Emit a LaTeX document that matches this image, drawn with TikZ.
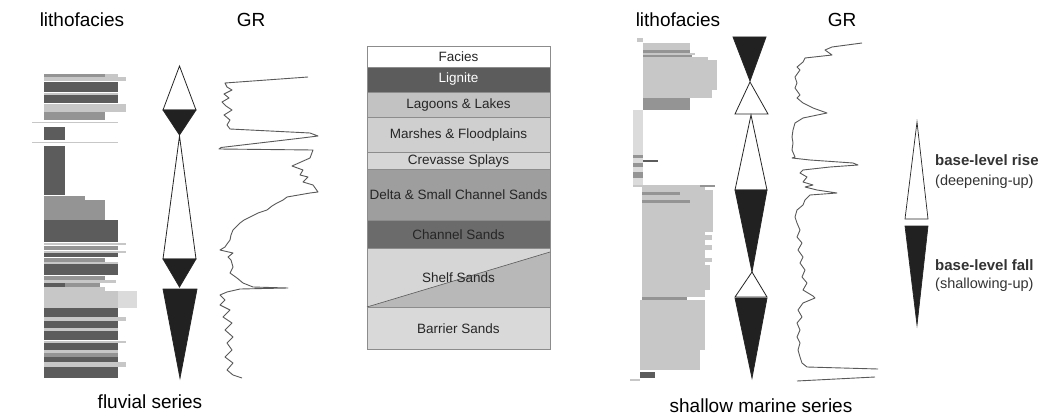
\documentclass[tikz,border=0pt]{standalone}
\usepackage{fontspec}
\setmainfont{Liberation Sans}
\definecolor{dk}{gray}{0.36}
\definecolor{md}{gray}{0.58}
\definecolor{lt}{gray}{0.78}
\definecolor{vl}{gray}{0.86}
\definecolor{blk}{gray}{0.13}
\definecolor{grc}{gray}{0.35}
\begin{document}
\begin{tikzpicture}[x=1pt,y=-1pt,
  title/.style={font=\fontsize{19}{22}\selectfont, inner sep=0pt},
  faciestxt/.style={font=\fontsize{13.5}{15}\selectfont, inner sep=0pt, text=black!85},
  legbold/.style={font=\fontsize{15}{17}\selectfont\bfseries, inner sep=0pt, anchor=west, text=black!80},
  legnorm/.style={font=\fontsize{14.5}{17}\selectfont, inner sep=0pt, anchor=west, text=black!80},
  tri/.style={draw=black!85, line width=0.8pt, line join=miter},
  gr/.style={draw=grc, line width=0.9pt, line join=round},
  row/.style={draw=black!45, line width=0.6pt}]
\useasboundingbox (0,0) rectangle (1044,420);
\fill[white] (0,0) rectangle (1044,420);

% ---------- titles ----------
\node[title] (tl1) at (82,20) {lithofacies};
\node[title] (tg1) at (251,20) {GR};
\node[title] (tl2) at (678,20) {lithofacies};
\node[title] (tg2) at (842,20) {GR};
\node[title] (fs) at (150,402) {fluvial series};
\node[title] (ms) at (761,406) {shallow marine series};

% ---------- left lithofacies column ----------
\fill[md] (44,74) rectangle (105,77); \fill[lt] (105,74) rectangle (118,77);
\fill[lt] (44,77) rectangle (126,81);
\fill[dk] (44,82) rectangle (118,92);
\fill[lt] (44,93) rectangle (118,94.5);
\fill[dk] (44,95) rectangle (118,103);
\fill[lt] (44,104) rectangle (126,112);
\fill[md] (44,112) rectangle (105,120);
\fill[lt] (32,122) rectangle (118,123.2);
\fill[dk] (44,127) rectangle (65,140);
\fill[lt] (32,142) rectangle (118,143.2);
\fill[dk] (44,146) rectangle (65,195);
\fill[md] (44,196) rectangle (85,200);
\fill[md] (44,200) rectangle (105,220);
\fill[dk] (44,220) rectangle (118,242);
\fill[lt] (44,243) rectangle (126,245);
\fill[md] (44,246) rectangle (118,250);
\fill[lt] (44,251) rectangle (126,253);
\fill[dk] (44,253) rectangle (118,257);
\fill[md] (44,258) rectangle (105,262);
\fill[lt] (44,262) rectangle (118,264);
\fill[dk] (44,264) rectangle (118,275);
\fill[md] (44,276) rectangle (105,280);
\fill[lt] (44,280) rectangle (116,283);
\fill[dk] (44,283) rectangle (65,287); \fill[md] (65,283) rectangle (100,287);
\fill[lt] (44,287) rectangle (105,291);
\fill[vl] (44,291) rectangle (137,308); \fill[lt] (44,291) rectangle (118,308);
\fill[dk] (44,308) rectangle (118,317);
\fill[lt] (44,317) rectangle (126,321);
\fill[dk] (44,321) rectangle (118,328);
\fill[lt] (44,328) rectangle (118,331);
\fill[dk] (44,331) rectangle (118,340);
\fill[lt] (44,341) rectangle (126,343);
\fill[dk] (44,343) rectangle (118,350);
\fill[lt] (44,350) rectangle (118,353);
\fill[md] (44,353) rectangle (118,357);
\fill[dk] (44,357) rectangle (118,362);
\fill[lt] (44,362) rectangle (126,367);
\fill[dk] (44,367) rectangle (118,378);

% ---------- left triangles ----------
\draw[tri, fill=white] (179.5,66) -- (163,110) -- (196,110) -- cycle;
\draw[tri, fill=blk] (163,110) -- (196,110) -- (179.5,135) -- cycle;
\draw[tri, fill=white] (179.5,136) -- (163,259) -- (196,259) -- cycle;
\draw[tri, fill=blk] (163,259) -- (196,259) -- (179.5,287) -- cycle;
\draw[tri, fill=blk] (163,289) -- (197,289) -- (180,378) -- cycle;

% ---------- left GR ----------
\draw[gr] plot coordinates {(308,77) (225,83) (227,87) (232,90) (224,94) (229,98) (222,102) (226,106) (232,110) (224,115) (230,120) (227,125) (230,129) (310,133) (318,136) (302,138) (221,147.5) (219,149) (313,150) (310,158) (292,166) (303,170) (300,175) (308,177) (303,182) (313,185) (318,192) (310,193) (287,197) (283,200) (277,203) (272,206) (267,210) (258,213) (250,217) (244,220) (240,223) (236,227) (233,230) (231,235) (230,240) (227,244) (225,247) (220,250) (233,253) (228,257) (231,260) (233,267) (230,273) (237,278) (243,283) (253,287) (288,288) (240,289) (227,292) (220,295) (225,300) (220,305) (230,310) (223,317) (232,323) (225,330) (233,337) (227,343) (232,350) (225,357) (233,363) (227,370) (233,375) (242,378)};

% ---------- facies table ----------
\filldraw[row, fill=white] (367,46) rectangle (550,67);
\filldraw[row, fill={black!64}] (367,67) rectangle (550,92);
\filldraw[row, fill={black!24}] (367,92) rectangle (550,117);
\filldraw[row, fill={black!19}] (367,117) rectangle (550,152);
\filldraw[row, fill={black!16}] (367,152) rectangle (550,169);
\filldraw[row, fill={black!38}] (367,169) rectangle (550,220);
\filldraw[row, fill={black!58}] (367,220) rectangle (550,248);
\fill[black!16] (367,248) -- (550,248) -- (550,252) -- (367,307) -- cycle;
\fill[black!28] (367,307) -- (550,252) -- (550,307) -- cycle;
\draw[row] (367,248) rectangle (550,307);
\draw[row, draw=black!65] (367,307) -- (550,252);
\filldraw[row, fill={black!15}] (367,307) rectangle (550,349);
\node[faciestxt] (f0) at (458.5,57) {Facies};
\node[faciestxt, text=white] (f1) at (458.5,79.5) {Lignite};
\node[faciestxt] (f2) at (458.5,105) {Lagoons \& Lakes};
\node[faciestxt] (f3) at (458.5,135) {Marshes \& Floodplains};
\node[faciestxt] (f4) at (458.5,161) {Crevasse Splays};
\node[faciestxt] (f5) at (458.5,195) {Delta \& Small Channel Sands};
\node[faciestxt] (f6) at (458.5,234.5) {Channel Sands};
\node[faciestxt] (f7) at (458.5,278) {Shelf Sands};
\node[faciestxt] (f8) at (458.5,329) {Barrier Sands};

% ---------- right lithofacies column ----------
\fill[lt] (637,38) rectangle (643,42);
\fill[lt] (643,43) rectangle (690,50);
\fill[md] (643,50) rectangle (690,53);
\fill[lt] (643,53) rectangle (695,55);
\fill[md] (643,55) rectangle (692,57);
\fill[lt] (643,57) rectangle (708,60);
\fill[lt] (643,60) rectangle (717,90);
\fill[lt] (643,90) rectangle (712,98);
\fill[md] (643,98) rectangle (690,110);
\fill[vl] (633,110) rectangle (643,185);
\fill[md] (633,155) rectangle (643,158);
\fill[dk] (643,160) rectangle (658,162);
\fill[md] (633,163) rectangle (643,167);
\fill[md] (633,172) rectangle (643,178);
\fill[lt] (633,185) rectangle (700,187); \fill[md] (700,185) rectangle (715,187);
\fill[lt] (642,187) rectangle (705,297);
\fill[md] (642,192) rectangle (680,195);
\fill[md] (642,200) rectangle (690,203);
\fill[lt] (705,190) rectangle (713,232);
\fill[lt] (705,235) rectangle (712,240);
\fill[lt] (705,245) rectangle (712,250);
\fill[lt] (705,258) rectangle (712,262);
\fill[lt] (705,265) rectangle (710,290);
\fill[md] (642,297) rectangle (687,299.5);
\fill[lt] (640,299.5) rectangle (705,350);
\fill[lt] (640,350) rectangle (700,370);
\fill[dk] (640,372) rectangle (655,378);
\fill[lt] (630,379) rectangle (640,381);

% ---------- right triangles ----------
\draw[tri, fill=blk] (733,37) -- (766,37) -- (750,81) -- cycle;
\draw[tri, fill=white] (750,82) -- (735,114) -- (768,114) -- cycle;
\draw[tri, fill=white] (751,115) -- (735,190) -- (767,190) -- cycle;
\draw[tri, fill=blk] (735,190) -- (767,190) -- (752,272) -- cycle;
\draw[tri, fill=white] (752,272) -- (735,297) -- (767,297) -- cycle;
\draw[tri, fill=blk] (735,298) -- (767,298) -- (752,378) -- cycle;

% ---------- right GR ----------
\draw[gr] plot coordinates {(862,43) (832,47) (825,50) (832,55) (805,58) (803,62) (797,67) (800,70) (795,77) (797,83) (795,88) (800,95) (797,98) (803,103) (813,108) (827,113) (803,118) (795,123) (793,130) (792,137) (793,143) (792,150) (795,157) (792,158) (810,160) (853,163) (858,165) (830,167) (803,170) (800,173) (807,177) (803,182) (813,185) (805,187) (817,190) (837,193) (810,195) (805,200) (803,205) (797,210) (795,217) (797,223) (800,230) (797,237) (802,243) (798,250) (803,257) (800,263) (805,270) (802,277) (807,283) (803,290) (813,296) (815,298) (803,303) (798,310) (802,317) (797,323) (800,330) (797,337) (800,343) (798,350) (800,357) (802,363) (807,367) (878,369)};
\draw[gr] (797,381) -- (875,377);

% ---------- legend ----------
\draw[tri, line width=0.7pt, fill=white] (917,122) -- (905,219) -- (928,219) -- cycle;
\draw[tri, line width=0.7pt, fill=blk] (905,226) -- (928,226) -- (917,325) -- cycle;
\node[legbold] (lr1) at (935,160) {base-level rise};
\node[legnorm] (lr2) at (935,182) {(deepening-up)};
\node[legbold] (lf1) at (935,265) {base-level fall};
\node[legnorm] (lf2) at (935,285) {(shallowing-up)};
\end{tikzpicture}
\end{document}
